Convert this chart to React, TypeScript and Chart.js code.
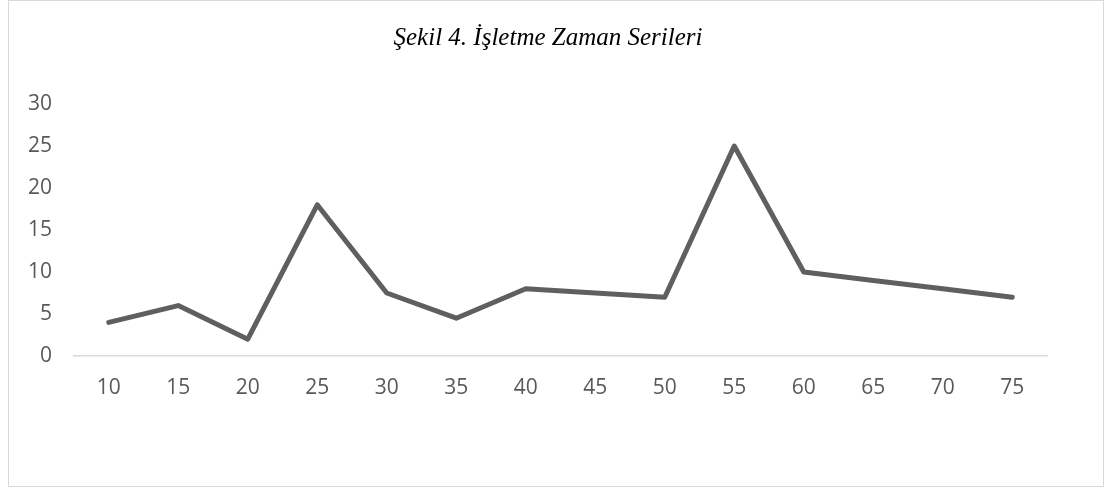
import React, { useEffect, useRef } from "react";
import { Chart, registerables } from "chart.js";

Chart.register(...registerables);

const categories: string[] = ["10", "15", "20", "25", "30", "35", "40", "45", "50", "55", "60", "65", "70", "75"];
const values: number[] = [4, 6, 2, 18, 7.5, 4.5, 8, 7.5, 7, 25, 10, 9, 8, 7];
const titleText = "Şekil 4. İşletme Zaman Serileri";
const yMax = 30;
const yStep = 5;

const titlePlugin = {
  id: "centeredTitle",
  afterDraw(chart: any) {
    const ctx = chart.ctx;
    ctx.save();
    ctx.fillStyle = "#000000";
    ctx.font = "italic 25px 'Liberation Serif', 'Times New Roman', serif";
    ctx.textAlign = "center";
    ctx.textBaseline = "alphabetic";
    ctx.fillText(titleText, 548, 45);
    ctx.restore();
  },
};

export default function App() {
  const canvasRef = useRef<HTMLCanvasElement | null>(null);

  useEffect(() => {
    const canvas = canvasRef.current;
    if (!canvas) return;
    const chart = new Chart(canvas, {
      type: "line",
      data: {
        labels: categories,
        datasets: [
          {
            data: values,
            borderColor: "#5f5f5f",
            borderWidth: 5,
            borderJoinStyle: "round",
            borderCapStyle: "round",
            pointRadius: 0,
            pointHoverRadius: 0,
            tension: 0,
            fill: false,
          },
        ],
      },
      plugins: [titlePlugin],
      options: {
        animation: false,
        responsive: false,
        maintainAspectRatio: false,
        events: [],
        layout: { padding: { left: 0, right: 62, top: 104, bottom: 0 } },
        plugins: {
          legend: { display: false },
          tooltip: { enabled: false },
          title: { display: false },
        },
        scales: {
          x: {
            type: "category",
            offset: true,
            grid: { display: false, drawTicks: false },
            border: { display: true, color: "#d9d9d9", width: 1.5 },
            ticks: {
              color: "#595959",
              font: { family: "'Open Sans', 'Noto Sans', sans-serif", size: 21 },
              padding: 19,
              maxRotation: 0,
              autoSkip: false,
            },
            afterFit: (scale: any) => {
              scale.height = 133;
            },
          },
          y: {
            min: 0,
            max: yMax,
            grid: { display: false, drawTicks: false },
            border: { display: false },
            ticks: {
              stepSize: yStep,
              color: "#595959",
              font: { family: "'Open Sans', 'Noto Sans', sans-serif", size: 21 },
              padding: 22,
            },
            afterFit: (scale: any) => {
              scale.width = 74;
            },
          },
        },
      },
    });
    return () => chart.destroy();
  }, []);

  return (
    <div style={{ position: "absolute", left: 0, top: 0, width: 1109, height: 489, background: "#ffffff" }}>
      <div
        style={{
          position: "absolute",
          left: 8,
          top: 0,
          width: 1094,
          height: 485,
          border: "1px solid #d9d9d9",
          boxSizing: "content-box",
        }}
      />
      <canvas ref={canvasRef} width={1109} height={489} style={{ position: "absolute", left: 0, top: 0 }} />
    </div>
  );
}
